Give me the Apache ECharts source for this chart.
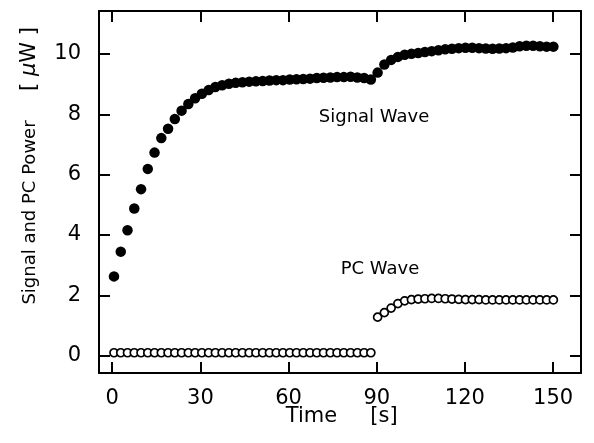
<!DOCTYPE html>
<html>
<head>
<meta charset="utf-8">
<script src="https://cdn.jsdelivr.net/npm/echarts@6/dist/echarts.min.js"></script>
<style>html,body{margin:0;padding:0;background:#fff}#c{width:594px;height:443px}</style>
</head>
<body>
<div id="c"></div>
<script>
// Time [s] of each sample
var time = [0.6, 2.9, 5.2, 7.5, 9.8, 12.1, 14.4, 16.7, 19.0, 21.3, 23.6, 25.9, 28.2, 30.5, 32.8, 35.1, 37.4, 39.7, 42.0, 44.3,
  46.6, 48.9, 51.2, 53.5, 55.8, 58.1, 60.4, 62.7, 65.0, 67.3, 69.6, 71.9, 74.2, 76.5, 78.8, 81.1, 83.4, 85.7, 88.0,
  90.3, 92.6, 94.9, 97.2, 99.5, 101.8, 104.1, 106.4, 108.7, 111.0, 113.3, 115.6, 117.9, 120.2, 122.5, 124.8, 127.1,
  129.4, 131.7, 134.0, 136.3, 138.6, 140.9, 143.2, 145.5, 147.8, 150.1];
// Signal wave power [uW]
var signal = [2.63, 3.45, 4.16, 4.88, 5.52, 6.19, 6.73, 7.21, 7.52, 7.84, 8.12, 8.34, 8.53, 8.68, 8.80, 8.90, 8.96, 9.01, 9.04, 9.06,
  9.08, 9.09, 9.10, 9.12, 9.13, 9.13, 9.15, 9.16, 9.17, 9.18, 9.20, 9.21, 9.22, 9.23, 9.23, 9.24, 9.22, 9.20, 9.15,
  9.38, 9.65, 9.80, 9.90, 9.97, 10.00, 10.03, 10.06, 10.09, 10.12, 10.15, 10.17, 10.19, 10.20, 10.20, 10.19, 10.18,
  10.17, 10.18, 10.19, 10.21, 10.25, 10.27, 10.27, 10.25, 10.24, 10.24];
// PC wave power [uW]
var pc = [0.1, 0.1, 0.1, 0.1, 0.1, 0.1, 0.1, 0.1, 0.1, 0.1, 0.1, 0.1, 0.1, 0.1, 0.1, 0.1, 0.1, 0.1, 0.1, 0.1,
  0.1, 0.1, 0.1, 0.1, 0.1, 0.1, 0.1, 0.1, 0.1, 0.1, 0.1, 0.1, 0.1, 0.1, 0.1, 0.1, 0.1, 0.1, 0.1,
  1.28, 1.43, 1.58, 1.73, 1.82, 1.86, 1.88, 1.89, 1.90, 1.90, 1.89, 1.88, 1.87, 1.86, 1.86, 1.86,
  1.85, 1.85, 1.85, 1.85, 1.85, 1.85, 1.85, 1.85, 1.85, 1.85, 1.85];
var xTicks = [0, 30, 60, 90, 120, 150];
var yTicks = [0, 2, 4, 6, 8, 10];

var FONT = 'DejaVu Sans';
var chart = echarts.init(document.getElementById('c'), null, {renderer: 'canvas'});

function axisBase(pos, show, ticks) {
  return {
    position: pos,
    axisLine: {show: true, onZero: false, lineStyle: {color: '#000', width: 2}},
    axisTick: {show: true, inside: true, length: 11, lineStyle: {color: '#000', width: 2}, customValues: ticks},
    axisLabel: {show: show, customValues: ticks, color: '#000', fontFamily: FONT, fontSize: 21},
    splitLine: {show: false}
  };
}
var xb = axisBase('bottom', true, xTicks);
xb.type = 'value'; xb.min = -4.5; xb.max = 159.5; xb.gridIndex = 0; xb.axisLabel.margin = 15;
var xt = axisBase('top', false, xTicks);
xt.type = 'value'; xt.min = -4.5; xt.max = 159.5; xt.gridIndex = 0;
var yl = axisBase('left', true, yTicks);
yl.type = 'value'; yl.min = -0.57; yl.max = 11.42; yl.axisLabel.margin = 18;
var yr = axisBase('right', false, yTicks);
yr.type = 'value'; yr.min = -0.57; yr.max = 11.42;

chart.setOption({
  animation: false,
  backgroundColor: '#fff',
  grid: {left: 99, right: 13, top: 11, bottom: 70, containLabel: false},
  xAxis: [xb, xt],
  yAxis: [yl, yr],
  series: [
    {
      type: 'scatter', xAxisIndex: 0, yAxisIndex: 0,
      symbol: 'circle', symbolSize: 10.5,
      itemStyle: {color: '#000', opacity: 1},
      data: time.map(function (t, i) { return [t, signal[i]]; })
    },
    {
      type: 'scatter', xAxisIndex: 0, yAxisIndex: 0,
      symbol: 'circle', symbolSize: 8,
      itemStyle: {color: '#fff', borderColor: '#000', borderWidth: 1.7, opacity: 1},
      data: time.map(function (t, i) { return [t, pc[i]]; })
    }
  ],
  graphic: [
    {type: 'text', x: 374, y: 117, style: {text: 'Signal Wave', fontFamily: FONT, fontSize: 18, fill: '#000', align: 'center', verticalAlign: 'middle'}},
    {type: 'text', x: 380, y: 269, style: {text: 'PC Wave', fontFamily: FONT, fontSize: 18, fill: '#000', align: 'center', verticalAlign: 'middle'}},
    {type: 'text', x: 311.5, y: 417, style: {text: 'Time', fontFamily: FONT, fontSize: 21, fill: '#000', align: 'center', verticalAlign: 'middle'}},
    {type: 'text', x: 384, y: 417, style: {text: '[s]', fontFamily: FONT, fontSize: 21, fill: '#000', align: 'center', verticalAlign: 'middle'}},
    {type: 'text', x: 30, y: 212.5, rotation: Math.PI / 2, style: {text: 'Signal and PC Power', fontFamily: FONT, fontSize: 18, fill: '#000', align: 'center', verticalAlign: 'middle'}},
    {type: 'text', x: 30, y: 59, rotation: Math.PI / 2, style: {text: '[ {i|μ}W ]', fontFamily: FONT, fontSize: 21, fill: '#000', align: 'center', verticalAlign: 'middle',
      rich: {i: {fontStyle: 'italic', fontFamily: FONT, fontSize: 21, fill: '#000'}}}}
  ]
});
</script>
</body>
</html>
